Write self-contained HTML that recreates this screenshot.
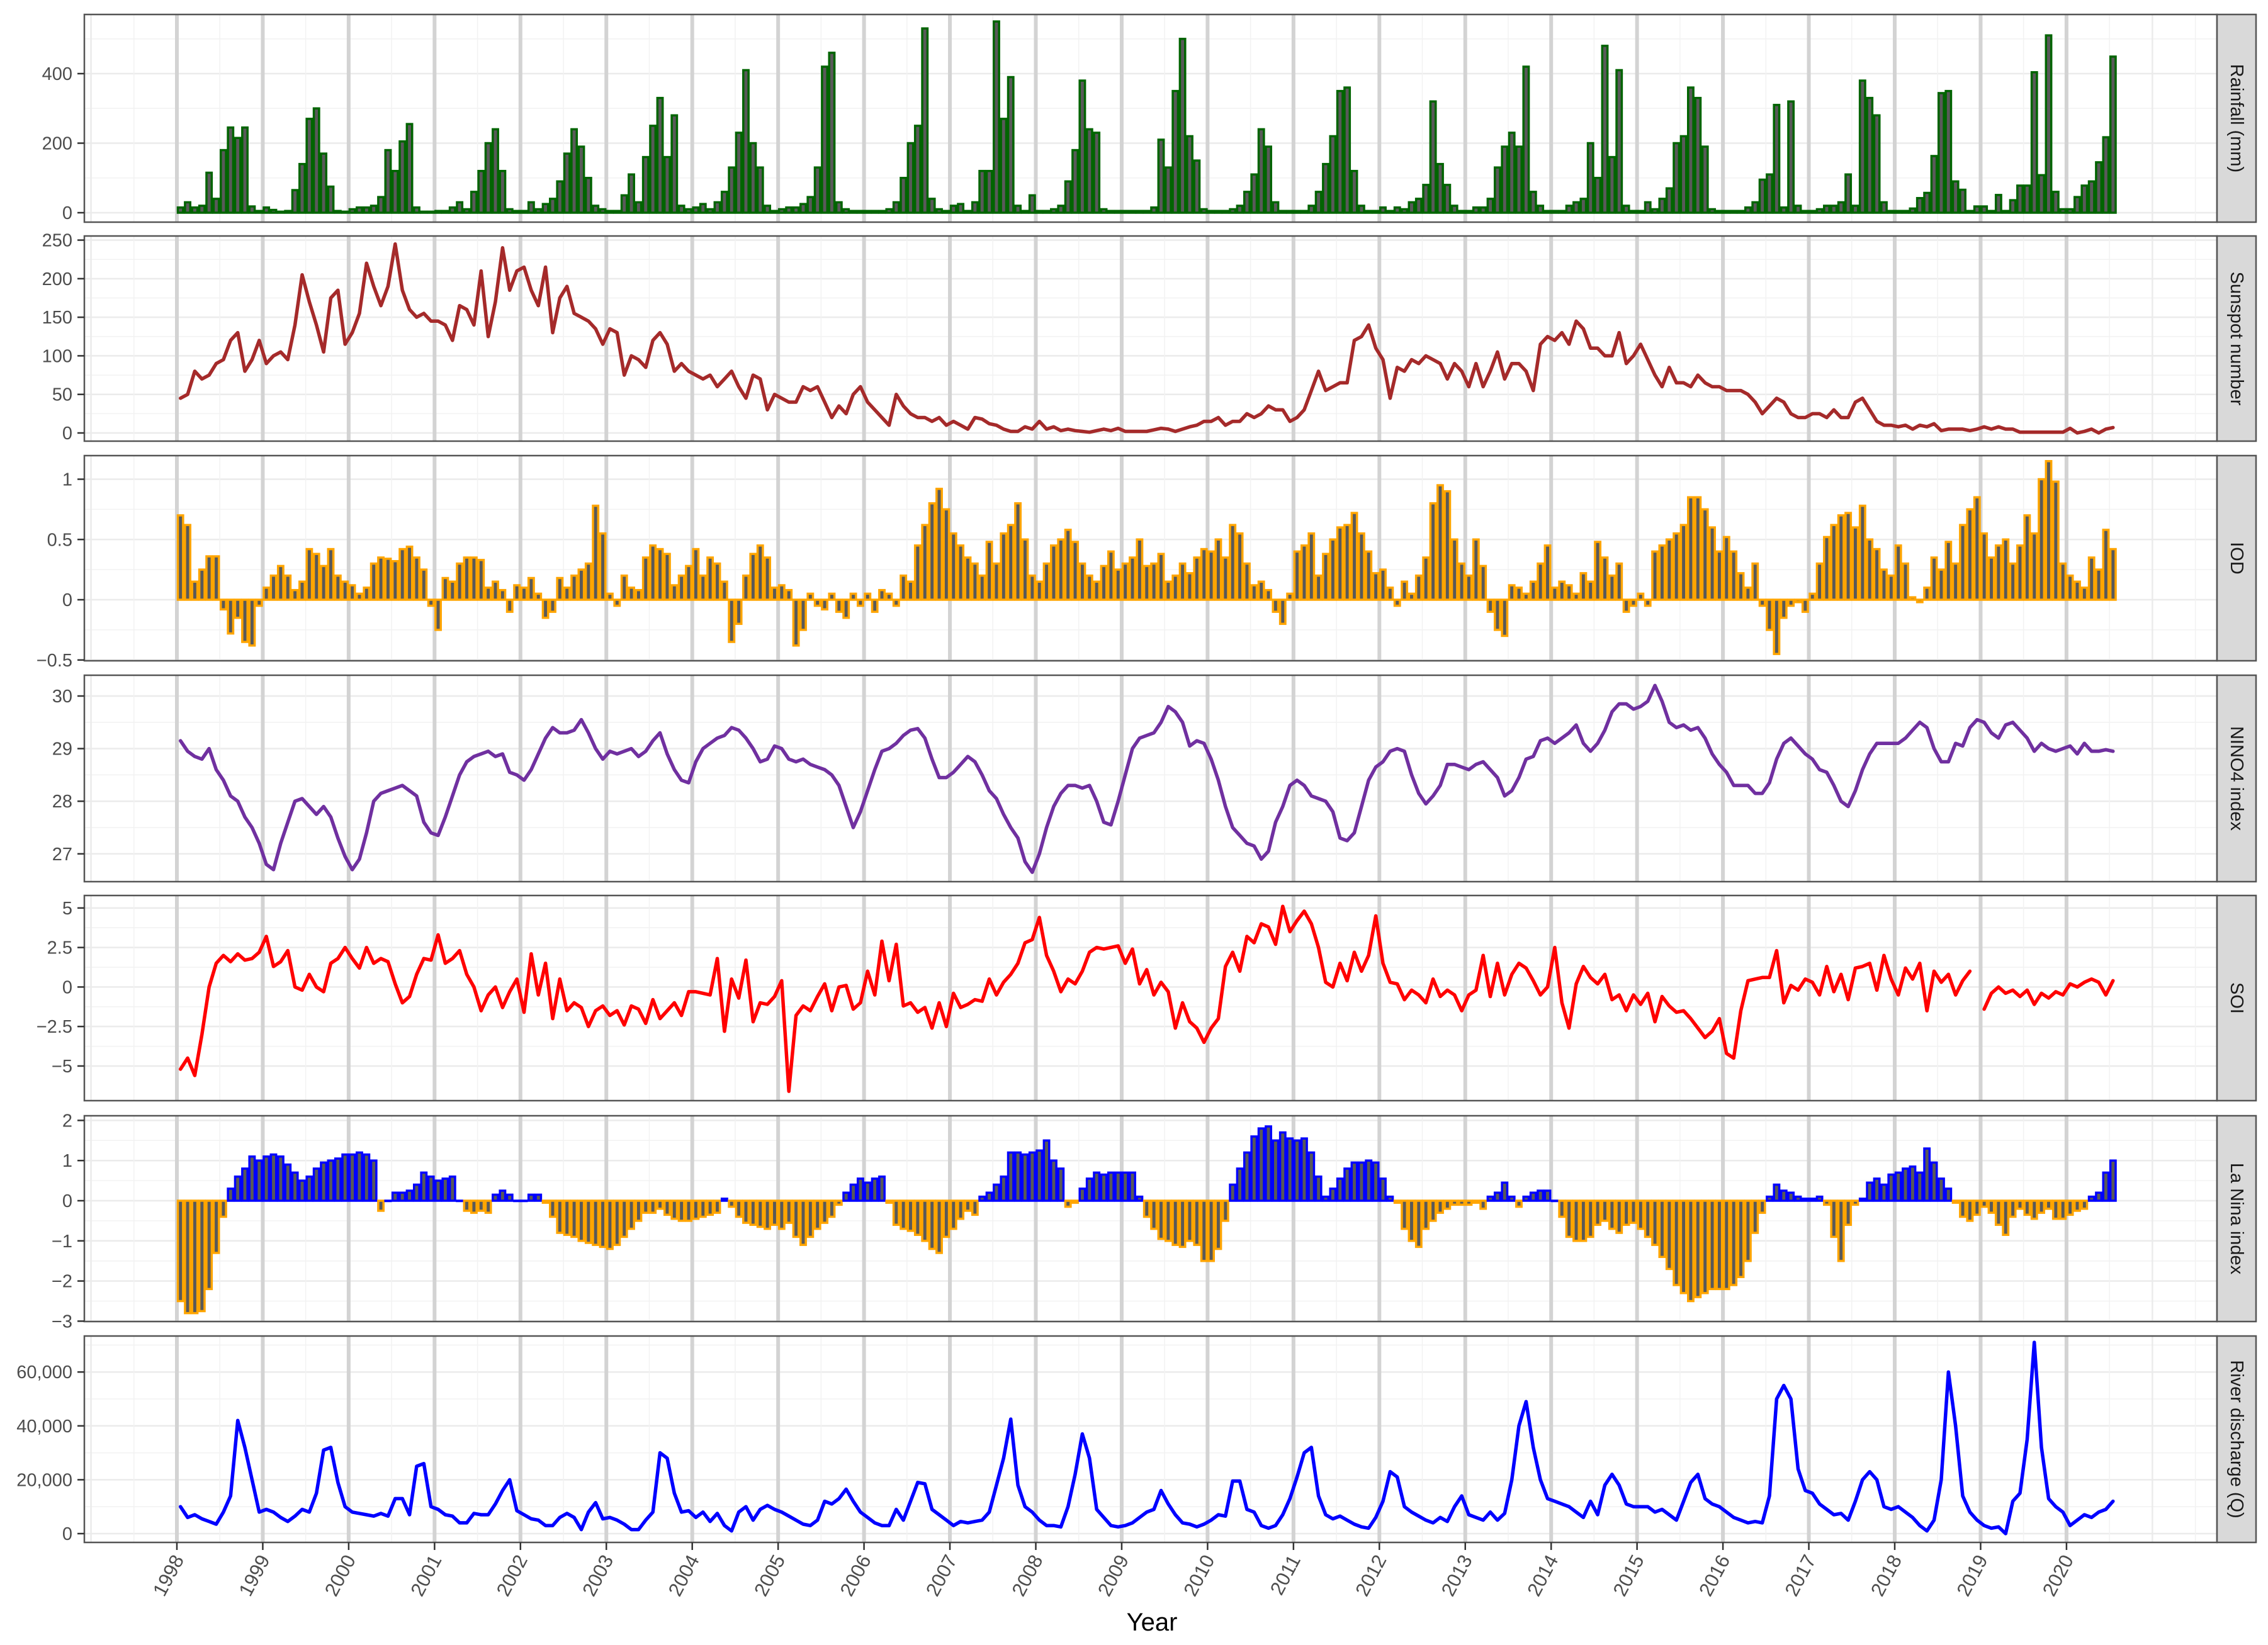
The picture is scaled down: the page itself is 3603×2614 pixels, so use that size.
<!DOCTYPE html>
<html><head><meta charset="utf-8"><style>
html,body{margin:0;padding:0;background:#fff;}
svg{display:block;font-family:"Liberation Sans",Arial,sans-serif;}
</style></head>
<body>
<svg id="chart" xmlns="http://www.w3.org/2000/svg" width="3603" height="2614" viewBox="0 0 3603 2614">
<rect x="0" y="0" width="3603" height="2614" fill="#fff"/>
<g id="panels"></g>
<text x="1830" y="2591" font-size="40" text-anchor="middle" fill="#000">Year</text>
</svg>
<script>
const yearLabels = [1998,1999,2000,2001,2002,2003,2004,2005,2006,2007,2008,2009,2010,2011,2012,2013,2014,2015,2016,2017,2018,2019,2020];
const startYear = 1998;

const rainfall = [
15,30,15,20,115,40,180,245,215,245,18,5,
15,8,3,5,65,140,270,300,170,75,5,3,
10,15,15,20,45,180,120,205,255,15,3,3,
5,5,15,30,10,60,120,200,240,120,10,5,
5,30,10,25,40,90,170,240,190,100,20,10,
5,5,50,110,30,160,250,330,160,280,20,10,
15,25,10,30,60,130,230,410,200,130,20,5,
10,15,15,25,45,130,420,460,30,10,5,5,
5,5,5,10,30,100,200,250,530,40,10,5,
20,25,5,30,120,120,550,270,390,20,5,50,
5,5,10,20,90,180,380,240,230,10,5,5,
5,5,5,5,15,210,130,350,500,220,150,10,
5,5,5,10,20,60,110,240,190,30,5,5,
5,5,20,60,140,220,350,360,120,20,5,5,
15,5,15,10,30,40,80,320,140,80,20,5,
5,15,15,40,130,190,230,190,420,60,20,5,
5,5,20,30,40,200,100,480,160,410,20,5,
5,30,10,40,70,200,220,360,330,190,10,5,
5,5,5,15,30,95,110,310,15,320,20,5,
5,10,20,20,30,110,20,380,330,280,30,5,
5,5,12,42,57,163,344,350,90,66,5,18,
18,5,51,5,36,78,78,404,108,510,60,10,
10,45,78,90,145,217,449];

const sunspots = [
45,50,80,70,75,90,95,120,130,80,95,120,
90,100,105,95,140,205,170,140,105,175,185,115,
130,155,220,190,165,190,245,185,160,150,155,145,
145,140,120,165,160,140,210,125,170,240,185,210,
215,185,165,215,130,175,190,155,150,145,135,115,
135,130,75,100,95,85,120,130,115,80,90,80,
75,70,75,60,70,80,60,45,75,70,30,50,
45,40,40,60,55,60,40,20,35,25,50,60,
40,30,20,10,50,35,25,20,20,15,20,10,
15,10,5,20,18,12,10,5,2,2,8,5,
15,5,8,3,5,3,2,1,3,5,3,6,
2,2,2,2,4,6,5,2,5,8,10,15,
15,20,10,15,15,25,20,25,35,30,30,15,
20,30,55,80,55,60,65,65,120,125,140,110,
95,45,85,80,95,90,100,95,90,70,90,80,
60,90,60,80,105,70,90,90,80,55,115,125,
120,130,115,145,135,110,110,100,100,130,90,100,
115,95,75,60,85,65,65,60,75,65,60,60,
55,55,55,50,40,25,35,45,40,25,20,20,
25,25,20,30,20,20,40,45,30,15,10,10,
8,10,5,10,8,12,3,5,5,5,3,5,
8,5,8,5,5,1,1,1,1,1,1,1,
6,0,2,5,0,5,7];

const iod = [
0.7,0.62,0.15,0.25,0.36,0.36,-0.08,-0.28,-0.15,-0.35,-0.38,-0.05,
0.1,0.2,0.28,0.2,0.08,0.15,0.42,0.38,0.28,0.42,0.2,0.15,
0.12,0.05,0.1,0.3,0.35,0.34,0.32,0.42,0.44,0.35,0.25,-0.05,
-0.25,0.18,0.15,0.3,0.35,0.35,0.33,0.1,0.15,0.08,-0.1,0.12,
0.1,0.18,0.05,-0.15,-0.1,0.18,0.1,0.2,0.25,0.3,0.78,0.55,
0.05,-0.05,0.2,0.1,0.08,0.35,0.45,0.42,0.38,0.12,0.2,0.28,
0.42,0.2,0.35,0.3,0.15,-0.35,-0.2,0.2,0.38,0.45,0.35,0.1,
0.12,0.08,-0.38,-0.25,0.05,-0.05,-0.08,0.05,-0.1,-0.15,0.05,-0.05,
0.05,-0.1,0.08,0.05,-0.05,0.2,0.15,0.45,0.62,0.8,0.92,0.75,
0.55,0.45,0.35,0.3,0.2,0.48,0.3,0.55,0.62,0.8,0.5,0.2,
0.15,0.3,0.45,0.5,0.58,0.48,0.3,0.2,0.15,0.28,0.4,0.25,
0.3,0.35,0.5,0.28,0.3,0.38,0.15,0.2,0.3,0.22,0.35,0.42,
0.4,0.5,0.35,0.62,0.55,0.3,0.12,0.15,0.08,-0.1,-0.2,0.05,
0.4,0.45,0.55,0.2,0.38,0.5,0.6,0.62,0.72,0.55,0.4,0.22,
0.25,0.1,-0.05,0.15,0.05,0.2,0.35,0.8,0.95,0.9,0.5,0.3,
0.2,0.5,0.28,-0.1,-0.25,-0.3,0.12,0.1,0.05,0.15,0.3,0.45,
0.1,0.15,0.12,0.05,0.22,0.15,0.48,0.35,0.2,0.3,-0.1,-0.05,
0.05,-0.05,0.4,0.45,0.5,0.55,0.62,0.85,0.85,0.75,0.6,0.4,
0.52,0.4,0.22,0.1,0.3,-0.05,-0.25,-0.45,-0.15,-0.05,-0.02,-0.1,
0.05,0.3,0.52,0.62,0.7,0.72,0.6,0.78,0.5,0.42,0.25,0.2,
0.45,0.3,0.02,-0.02,0.1,0.35,0.25,0.48,0.3,0.62,0.75,0.85,
0.55,0.35,0.45,0.5,0.3,0.45,0.7,0.55,1.0,1.15,0.98,0.3,
0.2,0.15,0.1,0.35,0.25,0.58,0.42];

const nino4 = [
29.15,28.95,28.85,28.8,29.0,28.6,28.4,28.1,28.0,27.7,27.5,27.2,
26.8,26.7,27.2,27.6,28.0,28.05,27.9,27.75,27.9,27.7,27.3,26.95,
26.7,26.9,27.4,28.0,28.15,28.2,28.25,28.3,28.2,28.1,27.6,27.4,
27.35,27.7,28.1,28.5,28.75,28.85,28.9,28.95,28.85,28.9,28.55,28.5,
28.4,28.6,28.9,29.2,29.4,29.3,29.3,29.35,29.55,29.3,29.0,28.8,
28.95,28.9,28.95,29.0,28.85,28.95,29.15,29.3,28.9,28.6,28.4,28.35,
28.75,29.0,29.1,29.2,29.25,29.4,29.35,29.2,29.0,28.75,28.8,29.05,
29.0,28.8,28.75,28.8,28.7,28.65,28.6,28.5,28.3,27.9,27.5,27.8,
28.2,28.6,28.95,29.0,29.1,29.25,29.35,29.38,29.2,28.8,28.45,28.45,
28.55,28.7,28.85,28.75,28.5,28.2,28.05,27.75,27.5,27.3,26.85,26.65,
27.0,27.5,27.9,28.15,28.3,28.3,28.25,28.3,28.0,27.6,27.55,28.0,
28.5,29.0,29.2,29.25,29.3,29.5,29.8,29.7,29.5,29.05,29.15,29.1,
28.8,28.4,27.9,27.5,27.35,27.2,27.15,26.9,27.05,27.6,27.9,28.3,
28.4,28.3,28.1,28.05,28.0,27.8,27.3,27.25,27.4,27.9,28.4,28.65,
28.75,28.95,29.0,28.95,28.5,28.15,27.95,28.1,28.3,28.7,28.7,28.65,
28.6,28.7,28.75,28.6,28.45,28.1,28.2,28.45,28.8,28.85,29.15,29.2,
29.1,29.2,29.3,29.45,29.1,28.95,29.1,29.35,29.7,29.85,29.85,29.75,
29.8,29.9,30.2,29.9,29.5,29.4,29.45,29.35,29.4,29.2,28.9,28.7,
28.55,28.3,28.3,28.3,28.15,28.15,28.35,28.8,29.1,29.2,29.05,28.9,
28.8,28.6,28.55,28.3,28.0,27.9,28.2,28.6,28.9,29.1,29.1,29.1,
29.1,29.2,29.35,29.5,29.4,29.0,28.75,28.75,29.1,29.05,29.4,29.55,
29.5,29.3,29.2,29.45,29.5,29.35,29.2,28.95,29.1,29.0,28.95,29.0,
29.05,28.9,29.1,28.95,28.95,28.98,28.95];

const soi = [
-5.2,-4.5,-5.6,-3,0,1.5,2,1.6,2.1,1.7,1.8,2.2,
3.2,1.3,1.6,2.3,0,-0.2,0.8,0,-0.3,1.5,1.8,2.5,
1.8,1.2,2.5,1.5,1.8,1.6,0.2,-1,-0.6,0.8,1.8,1.7,
3.3,1.5,1.8,2.3,0.8,0,-1.5,-0.5,0,-1.3,-0.3,0.5,
-1.6,2.1,-0.5,1.5,-2,0.5,-1.5,-1.0,-1.3,-2.5,-1.5,-1.2,
-1.8,-1.5,-2.4,-1.2,-1.4,-2.3,-0.8,-2.0,-1.5,-1.0,-1.8,-0.3,
-0.3,-0.4,-0.5,1.8,-2.8,0.5,-0.7,1.7,-2.2,-1.0,-1.1,-0.6,
0.4,-6.6,-1.8,-1.2,-1.5,-0.6,0.2,-1.5,0,0.1,-1.4,-1.0,
1.0,-0.5,2.9,0.4,2.7,-1.2,-1.0,-1.6,-1.3,-2.6,-1.0,-2.5,
-0.4,-1.3,-1.1,-0.8,-0.9,0.5,-0.5,0.3,0.8,1.5,2.8,3.0,
4.4,2.0,1.0,-0.3,0.5,0.2,1.0,2.2,2.5,2.4,2.5,2.6,
1.5,2.4,0.2,1.1,-0.5,0.3,-0.3,-2.6,-1.0,-2.2,-2.6,-3.5,
-2.6,-2.0,1.3,2.2,1.0,3.2,2.8,4.0,3.8,2.7,5.1,3.5,
4.2,4.8,4.0,2.5,0.3,0,1.5,0.4,2.2,1.0,2.0,4.5,
1.5,0.3,0.2,-0.8,-0.2,-0.5,-1.0,0.5,-0.6,-0.2,-0.5,-1.5,
-0.5,-0.2,2.0,-0.6,1.5,-0.5,0.8,1.5,1.2,0.4,-0.5,0.0,
2.5,-1.0,-2.6,0.2,1.3,0.6,0.2,0.8,-0.8,-0.5,-1.5,-0.5,
-1.1,-0.4,-2.2,-0.6,-1.2,-1.6,-1.5,-2.0,-2.6,-3.2,-2.8,-2.0,
-4.2,-4.5,-1.5,0.4,0.5,0.6,0.6,2.3,-1.0,0.1,-0.2,0.5,
0.3,-0.5,1.3,-0.3,0.8,-0.8,1.2,1.3,1.5,-0.2,2.0,0.5,
-0.5,1.2,0.5,1.5,-1.5,1.0,0.3,0.8,-0.5,0.4,1.0,null,
-1.4,-0.4,0,-0.4,-0.2,-0.6,-0.2,-1.1,-0.4,-0.7,-0.3,-0.5,
0.2,0.0,0.3,0.5,0.3,-0.5,0.4];

const lanina = [
-2.5,-2.8,-2.8,-2.75,-2.2,-1.3,-0.4,0.3,0.6,0.8,1.1,1.0,
1.1,1.15,1.1,0.9,0.7,0.5,0.6,0.8,0.95,1.0,1.05,1.15,
1.15,1.2,1.15,1.0,-0.25,0,0.2,0.2,0.25,0.4,0.7,0.6,
0.5,0.55,0.6,0,-0.25,-0.3,-0.25,-0.3,0.15,0.25,0.15,0,
0,0.15,0.15,-0.05,-0.4,-0.8,-0.85,-0.9,-1.0,-1.05,-1.1,-1.15,
-1.2,-1.1,-0.9,-0.7,-0.5,-0.3,-0.3,-0.2,-0.35,-0.45,-0.5,-0.5,
-0.45,-0.4,-0.35,-0.3,0.05,-0.15,-0.4,-0.55,-0.6,-0.65,-0.7,-0.6,
-0.7,-0.55,-0.9,-1.1,-0.9,-0.7,-0.55,-0.4,-0.1,0.2,0.4,0.55,
0.45,0.55,0.6,-0.05,-0.6,-0.7,-0.75,-0.85,-1.0,-1.2,-1.3,-0.9,
-0.7,-0.45,-0.25,-0.35,0.1,0.2,0.4,0.6,1.2,1.2,1.15,1.2,
1.25,1.5,1.0,0.8,-0.15,-0.05,0.3,0.55,0.7,0.65,0.7,0.7,
0.7,0.7,0.1,-0.4,-0.7,-0.95,-1.0,-1.1,-1.15,-1.0,-1.1,-1.5,
-1.5,-1.2,-0.5,0.4,0.8,1.2,1.6,1.8,1.85,1.5,1.7,1.55,
1.5,1.55,1.2,0.6,0.1,0.3,0.55,0.8,0.95,0.95,1.0,0.95,
0.55,0.1,-0.05,-0.7,-1.0,-1.15,-0.7,-0.5,-0.3,-0.2,-0.1,-0.1,
-0.1,-0.05,-0.2,0.1,0.2,0.45,0.1,-0.15,0.1,0.2,0.25,0.25,
0,-0.4,-0.9,-1.0,-1.0,-0.9,-0.6,-0.5,-0.7,-0.8,-0.6,-0.55,
-0.7,-0.9,-1.1,-1.4,-1.7,-2.1,-2.3,-2.5,-2.4,-2.3,-2.2,-2.2,
-2.2,-2.1,-1.9,-1.5,-0.8,-0.3,0.1,0.4,0.25,0.2,0.1,0.05,
0.05,0.1,-0.1,-0.9,-1.5,-0.6,-0.1,0.05,0.45,0.55,0.4,0.65,
0.7,0.8,0.85,0.7,1.3,0.95,0.55,0.3,-0.05,-0.4,-0.5,-0.35,
-0.15,-0.3,-0.6,-0.85,-0.4,-0.2,-0.35,-0.45,-0.3,-0.2,-0.45,-0.45,
-0.35,-0.25,-0.2,0.1,0.2,0.7,1.0];

const discharge = [
10000,6000,7000,5500,4500,3500,8000,14000,42000,32000,20000,8000,
9000,8000,6000,4500,6500,9000,8000,15000,31000,32000,19000,10000,
8000,7500,7000,6500,7500,6500,13000,13000,7000,25000,26000,10000,
9000,7000,6500,4000,4000,7500,7000,7000,11000,16000,20000,8500,
7000,5500,5000,3000,3000,6000,7500,6000,1500,8000,11500,5500,
6000,5000,3500,1500,1500,5000,8000,30000,28000,15000,8000,8500,
6000,8000,4500,7500,3000,1000,8000,10000,5000,9000,10500,9000,
8000,6500,5000,3500,3000,5000,12000,11000,13000,16500,12000,8000,
6000,4000,3000,3000,9000,5000,12000,19000,18500,9000,7000,5000,
3000,4500,4000,4500,5000,8000,18000,28000,42500,18000,10000,8000,
5000,3000,3000,2500,10000,22000,37000,28000,9000,6000,3000,2500,
3000,4000,6000,8000,9000,16000,11000,7000,4000,3500,2500,3500,
5000,7000,6500,19500,19500,9000,8000,3000,2000,3000,7000,13000,
21000,30000,32000,14000,7000,5500,6500,5000,3500,2500,2000,6000,
12000,23000,21000,10000,8000,6500,5000,4000,6000,4500,10000,14000,
7000,6000,5000,8000,5000,7500,20000,40000,49000,32000,20000,13000,
12000,11000,10000,8000,6000,12000,7000,18000,22000,18000,11000,10000,
10000,10000,8000,9000,7000,5000,12000,19000,22000,13000,11000,10000,
8000,6000,5000,4000,4500,4000,14000,50000,55000,50000,24000,16000,
15000,11000,9000,7000,7500,5000,12000,20000,23000,20000,10000,9000,
10000,8000,6000,3000,1000,5000,20000,60000,40000,14000,8000,5000,
3000,2000,2500,0,12000,15000,35000,71000,32000,13000,10000,8000,
3000,5000,7000,6000,8000,9000,12000];

const rainTicks = [0,200,400];
const sunTicks = [0,50,100,150,200,250];
const iodTicks = [-0.5,0,0.5,1];
const ninoTicks = [27,28,29,30];
const soiTicks = [-5,-2.5,0,2.5,5];
const laninaTicks = [-3,-2,-1,0,1,2];
const qTicks = [0,20000,40000,60000];

// layout (positions/styles, not data)
const PL = 134, PR = 3522, SR = 3584;
const X0 = 281, PX = 136.45;
function X(t){ return X0 + (t - startYear) * PX; }
function tMonth(i){ return startYear + (i + 0.5) / 12; }

const panels = [
 {name:'rainfall', label:'Rainfall (mm)', top:23, bot:353, y0:338, k:0.5525, ref:0, data:rainfall, ticks:rainTicks, minor:[100,300,500], type:'bar', color:'#006400', fmt:v=>String(v)},
 {name:'sunspot', label:'Sunspot number', top:375, bot:701, y0:688, k:1.2258, ref:0, data:sunspots, ticks:sunTicks, minor:[25,75,125,175,225], type:'line', color:'#a52a2a', fmt:v=>String(v)},
 {name:'iod', label:'IOD', top:724, bot:1050, y0:953, k:191.5, ref:0, data:iod, ticks:iodTicks, minor:[-0.25,0.25,0.75], type:'bar', color:'#ffa500', fmt:v=>(v<0?'\u2212':'')+String(Math.abs(v))},
 {name:'nino4', label:'NINO4 index', top:1073, bot:1401, y0:1106, k:83.6, ref:30, data:nino4, ticks:ninoTicks, minor:[27.5,28.5,29.5], type:'line', color:'#7030a0', fmt:v=>String(v)},
 {name:'soi', label:'SOI', top:1423, bot:1749, y0:1568.4, k:25.11, ref:0, data:soi, ticks:soiTicks, minor:[-3.75,-1.25,1.25,3.75], type:'line', color:'#ff0000', fmt:v=>(v<0?'\u2212':'')+String(Math.abs(v))},
 {name:'la-nina', label:'La Nina index', top:1773, bot:2100, y0:1908, k:63.8, ref:0, data:lanina, ticks:laninaTicks, minor:[-2.5,-1.5,-0.5,0.5,1.5], type:'bar2', color:'#ffa500', fmt:v=>(v<0?'\u2212':'')+String(Math.abs(v))},
 {name:'river-discharge', label:'River discharge (Q)', top:2123, bot:2451, y0:2437, k:0.00428, ref:0, data:discharge, ticks:qTicks, minor:[10000,30000,50000,70000], type:'line', color:'#0000ff', fmt:v=>v.toLocaleString('en-US')}
];

const NS = 'http://www.w3.org/2000/svg';
const root = document.getElementById('panels');
function mk(tag, attrs, parent){
  const e = document.createElementNS(NS, tag);
  for (const a in attrs) e.setAttribute(a, attrs[a]);
  (parent||root).appendChild(e);
  return e;
}

panels.forEach((p, pi) => {
  const Y = v => p.y0 - (v - p.ref) * p.k;
  const g = mk('g', {});
  
  
  const cid = 'clip' + pi;
  const cp = mk('clipPath', {id: cid}, g);
  mk('rect', {x: PL, y: p.top, width: PR - PL, height: p.bot - p.top}, cp);
  mk('rect', {x: PL, y: p.top, width: PR - PL, height: p.bot - p.top, fill: '#fff'}, g);
  const grid = mk('g', {'clip-path': 'url(#' + cid + ')'}, g);
  
  
  p.minor.forEach(v => mk('line', {x1: PL, x2: PR, y1: Y(v), y2: Y(v), stroke: '#f2f2f2', 'stroke-width': 1.5}, grid));
  p.ticks.forEach(v => mk('line', {x1: PL, x2: PR, y1: Y(v), y2: Y(v), stroke: '#ebebeb', 'stroke-width': 2.5}, grid));
  for (let t = 1996.5; t <= 2022; t += 0.5) {
    const major = Math.abs(t - Math.round(t)) < 0.01;
    mk('line', {x1: X(t), x2: X(t), y1: p.top, y2: p.bot, stroke: major ? '#ebebeb' : '#f2f2f2', 'stroke-width': major ? 2.5 : 1.5}, grid);
  }
  yearLabels.forEach(yr => {
    const vl = mk('line', {x1: X(yr), x2: X(yr), y1: p.top, y2: p.bot, stroke: '#d3d3d3', 'stroke-width': 6}, grid);
    
    
  });
  const marks = mk('g', {'clip-path': 'url(#' + cid + ')'}, g);
  
  
  const bw = PX / 12;
  if (p.type === 'bar' || p.type === 'bar2') {
    p.data.forEach((v, i) => {
      if (v === null) return;
      const xc = X(tMonth(i));
      const y1 = Y(0), y2 = Y(v);
      let col = p.color;
      if (p.type === 'bar2') col = v >= 0 ? '#0000ff' : '#ffa500';
      const r = mk('rect', {x: xc - bw / 2 + 1.5, y: Math.min(y1, y2), width: bw - 3, height: Math.max(Math.abs(y2 - y1), 0.5), fill: '#595959', stroke: col, 'stroke-width': 3.5});
      marks.appendChild(r);
      
      
    });
  } else {
    let d = '', pen = false;
    p.data.forEach((v, i) => {
      if (v === null) { pen = false; return; }
      d += (pen ? 'L' : 'M') + X(tMonth(i)).toFixed(1) + ',' + Y(v).toFixed(1);
      pen = true;
    });
    const path = mk('path', {d: d, fill: 'none', stroke: p.color, 'stroke-width': 5.5, 'stroke-linejoin': 'round', 'stroke-linecap': 'round'}, marks);
    
    
  }
  mk('rect', {x: PL, y: p.top, width: PR - PL, height: p.bot - p.top, fill: 'none', stroke: '#555', 'stroke-width': 2.5}, g);
  // y axis
  const ax = mk('g', {}, g);
  
  
  p.ticks.forEach(v => {
    const y = Y(v);
    mk('line', {x1: 123, x2: PL, y1: y, y2: y, stroke: '#333', 'stroke-width': 2.5}, ax);
    const tx = mk('text', {x: 115, y: y + 10, 'font-size': 29, 'text-anchor': 'end', fill: '#4d4d4d'}, ax);
    tx.textContent = p.fmt(v);
    
    
  });
  // strip
  const st = mk('g', {}, g);
  
  
  mk('rect', {x: PR, y: p.top, width: SR - PR, height: p.bot - p.top, fill: '#d9d9d9', stroke: '#555', 'stroke-width': 2.5}, st);
  const cy = (p.top + p.bot) / 2, cx = (PR + SR) / 2;
  const lt = mk('text', {x: cx, y: cy, 'font-size': 29, 'text-anchor': 'middle', 'dominant-baseline': 'central', fill: '#1a1a1a', transform: 'rotate(90 ' + cx + ' ' + cy + ')'}, st);
  lt.textContent = p.label;
  
  
});

// x axis
const xa = mk('g', {});


yearLabels.forEach(yr => {
  const x = X(yr);
  mk('line', {x1: x, x2: x, y1: 2451, y2: 2463, stroke: '#333', 'stroke-width': 2.5}, xa);
  const t = mk('text', {x: x + 12, y: 2478, 'font-size': 31, 'text-anchor': 'end', fill: '#4d4d4d', transform: 'rotate(-62 ' + (x + 12) + ' 2478)'}, xa);
  t.textContent = String(yr);
  
  
});
</script>
</body></html>
